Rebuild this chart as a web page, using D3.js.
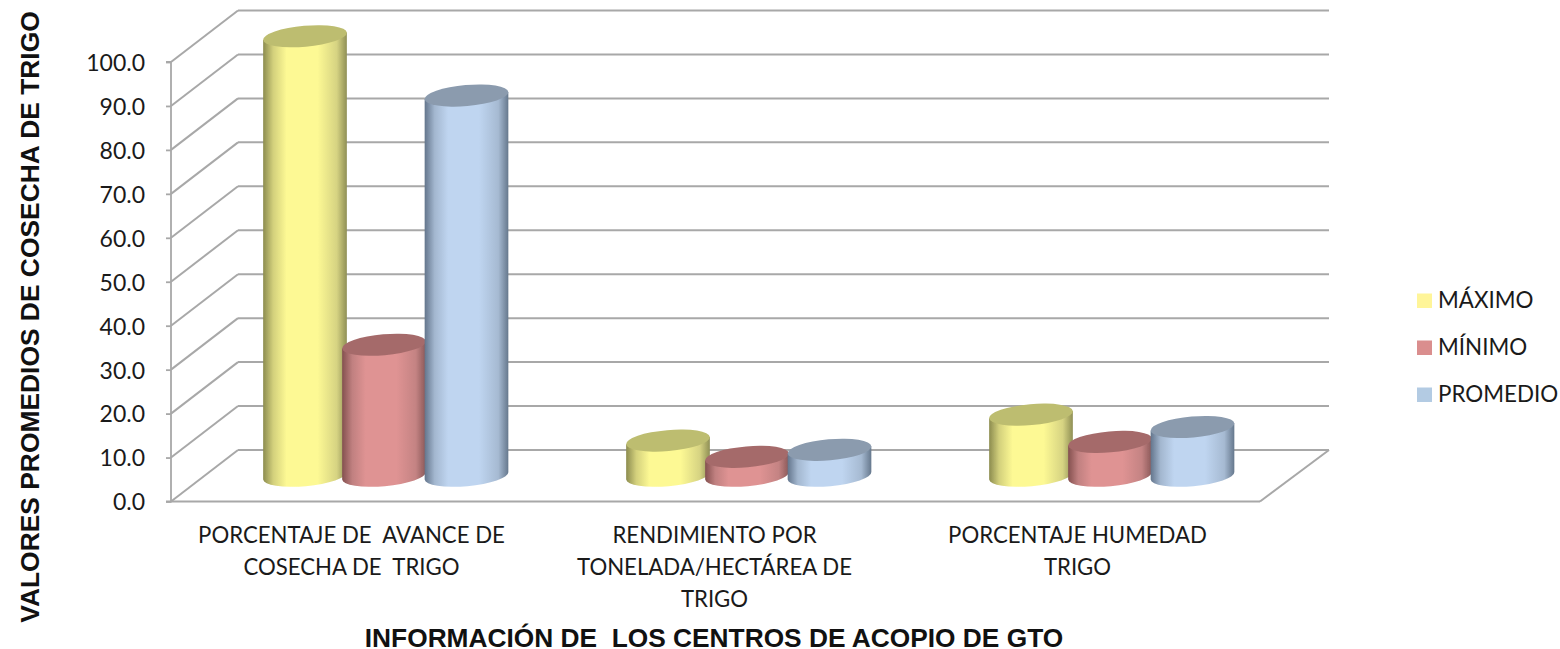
<!DOCTYPE html>
<html>
<head>
<meta charset="utf-8">
<script src="https://cdn.jsdelivr.net/npm/d3@7"></script>
<style>
    html, body { margin: 0; padding: 0; background: #fff; }
</style>
</head>
<body>
<div id="chart"></div>
<script>
const categories = [
    "PORCENTAJE DE  AVANCE DE|COSECHA DE  TRIGO",
    "RENDIMIENTO POR|TONELADA/HECTÁREA DE|TRIGO",
    "PORCENTAJE HUMEDAD|TRIGO"
];
const seriesNames = ["MÁXIMO", "MÍNIMO", "PROMEDIO"];
const maximo = [100.0, 8.0, 13.9];
const minimo = [29.8, 4.3, 7.7];
const promedio = [86.5, 5.9, 11.1];
const yTicks = [0, 10, 20, 30, 40, 50, 60, 70, 80, 90, 100];
const yTitle = "VALORES PROMEDIOS DE COSECHA DE TRIGO";
const xTitle = "INFORMACIÓN DE  LOS CENTROS DE ACOPIO DE GTO";

function main() {
    const canvasWidth = 1560;
    const canvasHeight = 649;

    const svg = d3.select("#chart").append("svg")
        .attr("width", canvasWidth)
        .attr("height", canvasHeight)
        .style("display", "block");

    // floor of the 3d box: front edge and how far the back wall is shifted
    const depthX = 67;
    const depthY = -51.5;
    const xGroup = d3.scaleBand().domain(categories).range([171, 1260]);
    const xBar = d3.scaleOrdinal().domain(seriesNames).range([100.5, 179.5, 262]);
    const y = d3.scaleLinear().domain([0, 100]).range([501.5, 62]);

    const grey = "#a8a8a8";
    const looks = [
        { body: ["#8c8c4f", "#d3d07c", "#fdf994", "#fdf994", "#d6d382", "#8f8f55"], top: "#bdbd70", swatch: "#fff599" },
        { body: ["#84504f", "#c08080", "#df9393", "#df9393", "#c48383", "#8a5858"], top: "#a56b6b", swatch: "#da8e8e" },
        { body: ["#63758c", "#a3b7cf", "#bfd5f0", "#bfd5f0", "#a6bad2", "#66788d"], top: "#8b9bae", swatch: "#b3cbe3" }
    ];

    const defs = svg.append("defs");
    looks.forEach((look, i) => {
        const grad = defs.append("linearGradient").attr("id", "body" + i);
        const offsets = [0, 0.12, 0.28, 0.65, 0.88, 1];
        look.body.forEach((c, j) => {
            grad.append("stop").attr("offset", offsets[j]).attr("stop-color", c);
        });
    });

    // the picture is soft all over, so the marks get a very light blur
    defs.append("filter").attr("id", "soft")
        .append("feGaussianBlur").attr("stdDeviation", 0.5);

    const marks = svg.append("g").attr("filter", "url(#soft)");

    // back wall lines and the diagonals on the side wall
    const wall = marks.append("g")
        .attr("fill", "none")
        .attr("stroke", grey)
        .attr("stroke-width", 2);

    wall.selectAll(".back")
        .data(yTicks)
        .enter().append("line")
        .attr("x1", 171 + depthX)
        .attr("x2", 1260 + depthX + 2)
        .attr("y1", d => y(d) + depthY)
        .attr("y2", d => y(d) + depthY);

    wall.selectAll(".side")
        .data(yTicks)
        .enter().append("line")
        .attr("x1", 171)
        .attr("x2", 171 + depthX)
        .attr("y1", d => y(d))
        .attr("y2", d => y(d) + depthY);

    // floor front edge and right edge
    wall.append("line")
        .attr("x1", 171).attr("x2", 1260)
        .attr("y1", y(0)).attr("y2", y(0));
    wall.append("line")
        .attr("x1", 1260).attr("x2", 1260 + depthX + 2)
        .attr("y1", y(0)).attr("y2", y(0) + depthY);

    // value axis
    const axis = svg.append("g")
        .attr("transform", "translate(171,0)")
        .call(d3.axisLeft(y).tickValues(yTicks).tickFormat(d3.format(".1f")).tickSize(5).tickPadding(21));
    axis.selectAll("line, path").attr("stroke", grey).attr("stroke-width", 1.8);
    axis.select("path").attr("d", "M-5," + y(100) + "H0V" + y(0) + "H-5");
    axis.selectAll("text")
        .attr("y", 1)
        .attr("font-family", "Lato, sans-serif")
        .attr("font-size", 23)
        .attr("fill", "#1a1a1a");

    // cylinders
    const rx = 42;
    const ry = 10.5;
    const tilt = -5;
    const dx = rx * Math.cos(tilt * Math.PI / 180);
    const dy = rx * Math.sin(tilt * Math.PI / 180);
    const seriesValues = [maximo, minimo, promedio];

    seriesNames.forEach((name, s) => {
        const g = marks.append("g").attr("class", "series");
        const rows = categories.map((c, i) => ({
            cx: xGroup(c) + xBar(name) + depthX / 2,
            base: y(0) + depthY / 2,
            top: y(seriesValues[s][i]) + depthY / 2
        }));

        g.selectAll(".body")
            .data(rows)
            .enter().append("path")
            .attr("fill", "url(#body" + s + ")")
            .attr("d", d => "M" + (d.cx - dx) + "," + (d.top - dy)
                + "L" + (d.cx - dx) + "," + (d.base - dy)
                + "A" + rx + "," + ry + " " + tilt + " 0 0 " + (d.cx + dx) + "," + (d.base + dy)
                + "L" + (d.cx + dx) + "," + (d.top + dy) + "Z");

        g.selectAll(".top")
            .data(rows)
            .enter().append("ellipse")
            .attr("cx", d => d.cx)
            .attr("cy", d => d.top)
            .attr("rx", rx)
            .attr("ry", ry)
            .attr("transform", d => "rotate(" + tilt + " " + d.cx + " " + d.top + ")")
            .attr("fill", looks[s].top);
    });

    // category labels, "|" marks the line breaks
    categories.forEach(c => {
        const t = svg.append("text")
            .attr("text-anchor", "middle")
            .attr("font-family", "Lato, sans-serif")
            .attr("font-size", 22.2)
            .attr("fill", "#1a1a1a")
            .style("white-space", "pre");
        c.split("|").forEach((row, j) => {
            t.append("tspan")
                .attr("x", xGroup(c) + xGroup.bandwidth() / 2 - 1)
                .attr("y", 543 + j * 32)
                .text(row);
        });
    });

    // legend
    const legend = svg.selectAll(".legend")
        .data(seriesNames)
        .enter().append("g")
        .attr("transform", (d, i) => "translate(1417," + (293.5 + i * 47) + ")");
    legend.append("rect")
        .attr("width", 15)
        .attr("height", 14.5)
        .attr("fill", (d, i) => looks[i].swatch);
    legend.append("text")
        .attr("x", 21)
        .attr("y", 14.5)
        .attr("font-family", "Lato, sans-serif")
        .attr("font-size", 22.4)
        .attr("fill", "#1a1a1a")
        .text(d => d);

    // axis titles
    svg.append("text")
        .attr("x", 714)
        .attr("y", 647)
        .attr("text-anchor", "middle")
        .attr("font-family", "'Liberation Sans', sans-serif")
        .attr("font-weight", 700)
        .attr("font-size", 26.3)
        .attr("fill", "#111")
        .style("white-space", "pre")
        .text(xTitle);

    svg.append("text")
        .attr("transform", "translate(39,317) rotate(-90)")
        .attr("text-anchor", "middle")
        .attr("font-family", "'Liberation Sans', sans-serif")
        .attr("font-weight", 700)
        .attr("font-size", 26.4)
        .attr("fill", "#111")
        .text(yTitle);
}
main();
</script>
</body>
</html>
